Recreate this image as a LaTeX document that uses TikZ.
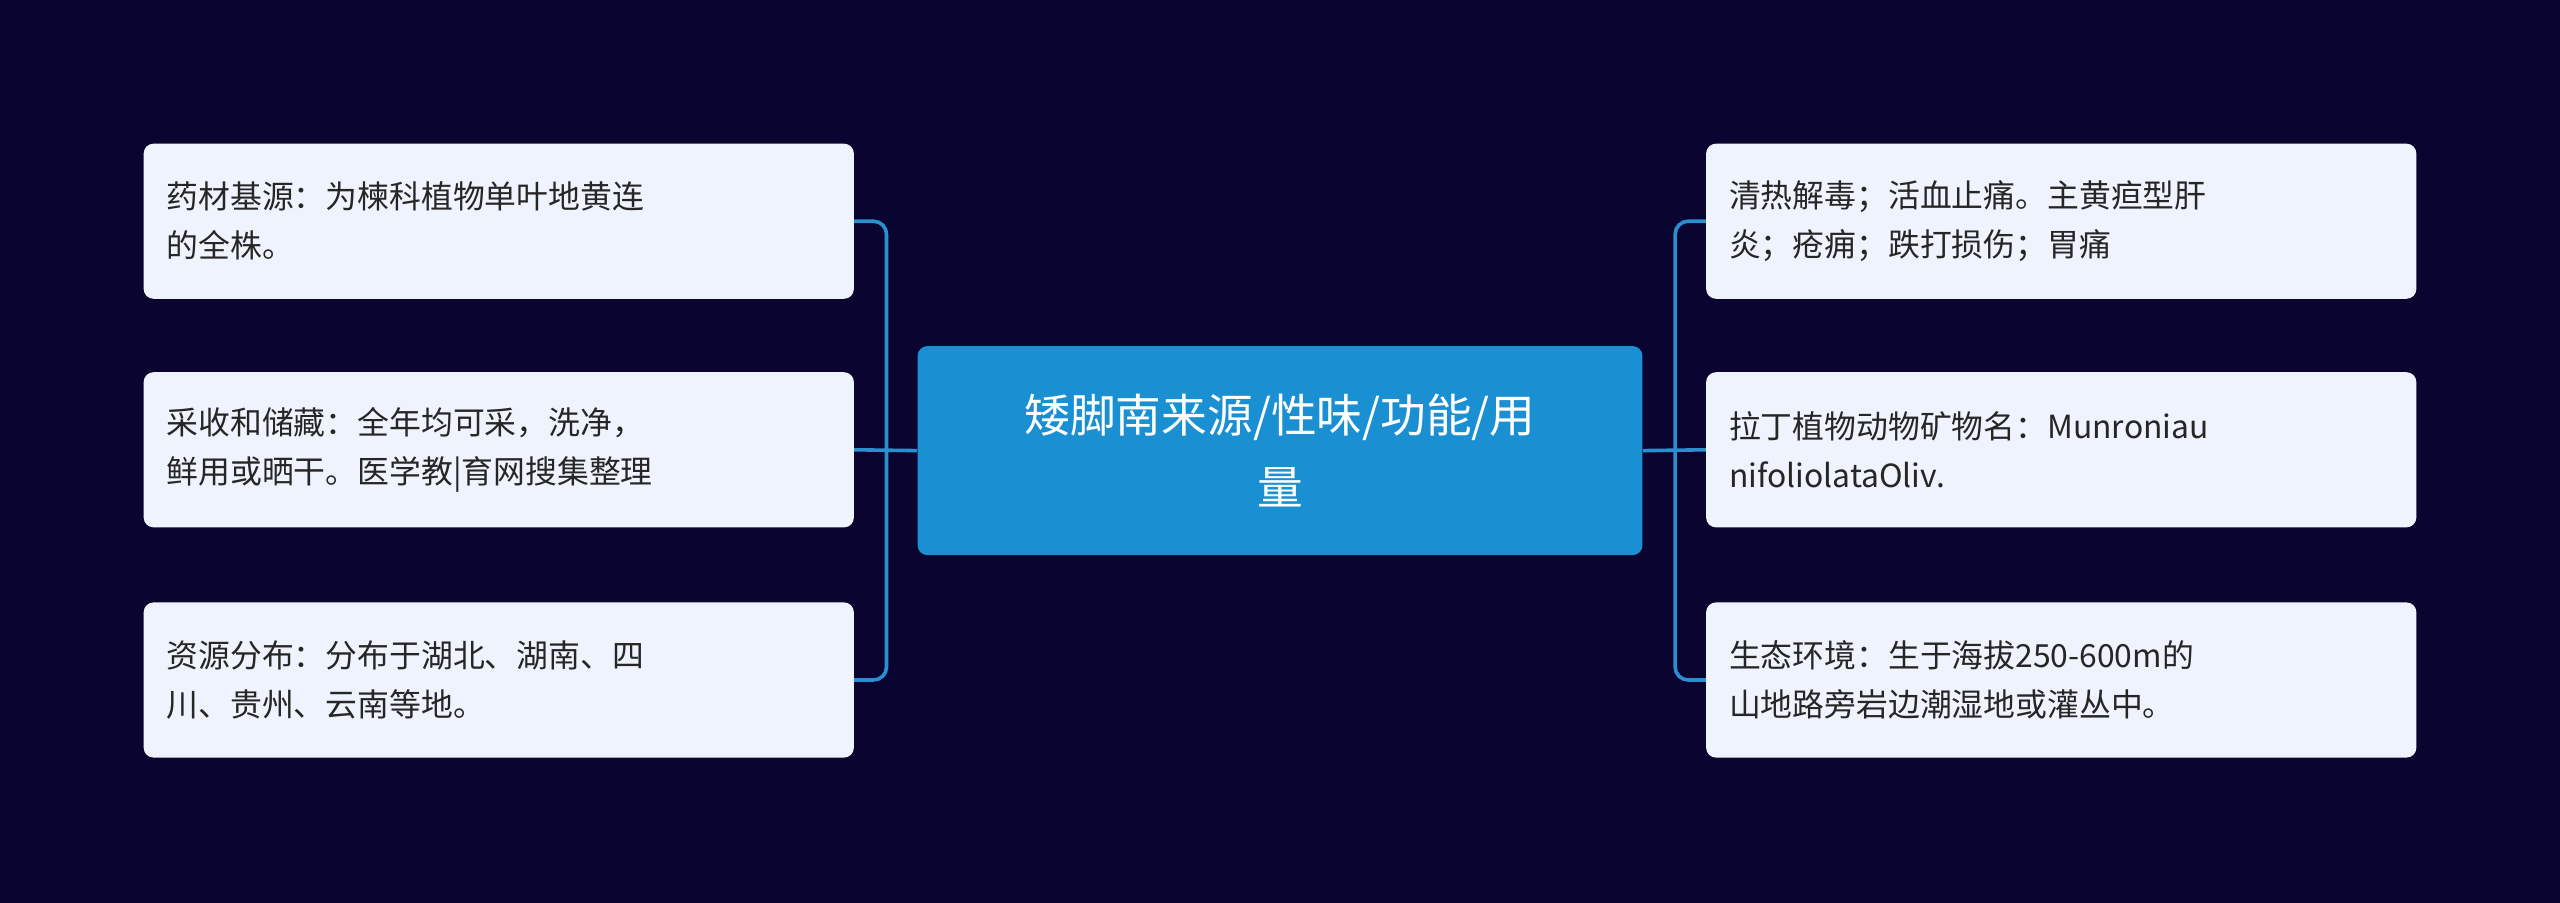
\documentclass[tikz,border=0pt]{standalone}
\usepackage{fontspec}
\setmainfont{Noto Sans CJK SC}
\definecolor{bg}{HTML}{0A0530}
\definecolor{mainc}{HTML}{1A90D2}
\definecolor{leafc}{HTML}{EEF3FD}
\definecolor{linec}{HTML}{2A8FD0}
\begin{document}
\begin{tikzpicture}[x=1pt,y=-1pt,
  leaf/.style={fill=leafc,rounded corners=6pt,minimum width=435pt,minimum height=95pt,text width=407pt,align=left,font=\fontsize{19.5}{30}\selectfont,text=black!85,inner sep=0pt},
  mainbox/.style={fill=mainc,rounded corners=6pt,minimum width=444pt,minimum height=128pt,text width=420pt,align=center,font=\fontsize{28}{44}\selectfont,text=white},
  conn/.style={draw=linec,line width=2.2pt,rounded corners=8pt}]
\fill[bg] (0,0) rectangle (1568,553);
\node[mainbox] (c) at (784,276) {矮脚南来源/性味/功能/用\\量};
\node[leaf] (l1) at (305.5,135.5) {药材基源：为楝科植物单叶地黄连\\的全株。};
\node[leaf] (l2) at (305.5,275.5) {采收和储藏：全年均可采，洗净，\\鲜用或晒干。医学教|育网搜集整理};
\node[leaf] (l3) at (305.5,416.5) {资源分布：分布于湖北、湖南、四\\川、贵州、云南等地。};
\node[leaf] (r1) at (1262.5,135.5) {清热解毒；活血止痛。主黄疸型肝\\炎；疮痈；跌打损伤；胃痛};
\node[leaf] (r2) at (1262.5,275.5) {拉丁植物动物矿物名：Munroniau\\nifoliolataOliv.};
\node[leaf] (r3) at (1262.5,416.5) {生态环境：生于海拔250-600m的\\山地路旁岩边潮湿地或灌丛中。};
\coordinate (lj) at (543,276);
\coordinate (rj) at (1026,276);
\draw[conn] (c.west) -- (l2.east);
\draw[conn] (c.east) -- (r2.east-|r2.west);
\draw[conn] (l1.east) -- (l1.east-|lj) -- (l3.east-|lj) -- (l3.east);
\draw[conn] (r1.west) -- (r1.west-|rj) -- (r3.west-|rj) -- (r3.west);
\end{tikzpicture}
\end{document}
